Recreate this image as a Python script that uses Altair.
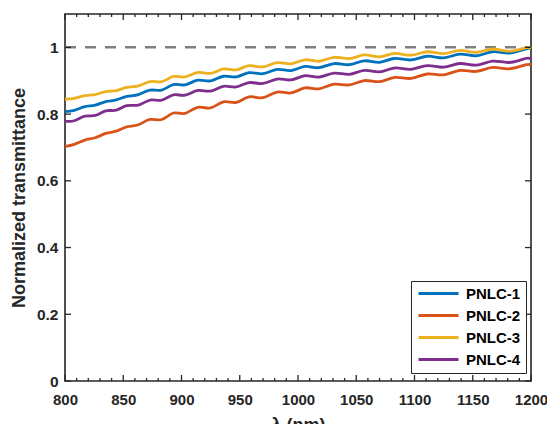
import altair as alt
import pandas as pd

# ---------------- data ----------------
wavelength = [800, 808, 817, 826, 835, 844, 853, 863, 873, 883, 893, 903, 914, 925,
              936, 947, 958, 970, 982, 994, 1006, 1018, 1031, 1044, 1057, 1070, 1083,
              1097, 1111, 1125, 1139, 1153, 1167, 1181, 1195, 1200]

pnlc1 = [0.8075, 0.8114, 0.8221, 0.8269, 0.8376, 0.8423, 0.8530, 0.8582, 0.8719, 0.8721,
         0.8883, 0.8876, 0.9016, 0.8995, 0.9134, 0.9114, 0.9242, 0.9210, 0.9338, 0.9306,
         0.9430, 0.9391, 0.9515, 0.9480, 0.9598, 0.9552, 0.9666, 0.9622, 0.9734, 0.9685,
         0.9796, 0.9748, 0.9868, 0.9827, 0.9946, 0.9960]

pnlc2 = [0.7035, 0.7093, 0.7222, 0.7291, 0.7420, 0.7489, 0.7614, 0.7680, 0.7841, 0.7837,
         0.8033, 0.8022, 0.8204, 0.8185, 0.8366, 0.8348, 0.8518, 0.8490, 0.8662, 0.8634,
         0.8786, 0.8759, 0.8896, 0.8874, 0.9005, 0.8972, 0.9099, 0.9069, 0.9202, 0.9175,
         0.9308, 0.9278, 0.9398, 0.9357, 0.9476, 0.9470]

pnlc3 = [0.8445, 0.8468, 0.8557, 0.8587, 0.8676, 0.8705, 0.8798, 0.8844, 0.8975, 0.8971,
         0.9127, 0.9114, 0.9247, 0.9220, 0.9353, 0.9326, 0.9450, 0.9416, 0.9542, 0.9507,
         0.9628, 0.9584, 0.9703, 0.9662, 0.9773, 0.9716, 0.9819, 0.9765, 0.9868, 0.9810,
         0.9912, 0.9854, 0.9950, 0.9887, 0.9984, 0.9970]

pnlc4 = [0.7790, 0.7800, 0.7940, 0.7959, 0.8098, 0.8117, 0.8253, 0.8271, 0.8419, 0.8417,
         0.8575, 0.8567, 0.8708, 0.8690, 0.8832, 0.8813, 0.8945, 0.8918, 0.9051, 0.9024,
         0.9149, 0.9108, 0.9229, 0.9191, 0.9310, 0.9266, 0.9382, 0.9342, 0.9454, 0.9405,
         0.9516, 0.9468, 0.9588, 0.9547, 0.9666, 0.9660]

series_names = ["PNLC-1", "PNLC-2", "PNLC-3", "PNLC-4"]
series_colors = ["#0072BD", "#D95319", "#EDB120", "#7E2F8E"]

x_domain = [800, 1200]
y_domain = [0, 1.1]
x_major = [800, 850, 900, 950, 1000, 1050, 1100, 1150, 1200]
x_minor = [v for v in range(800, 1201, 10) if v % 50 != 0]
y_major = [0, 0.2, 0.4, 0.6, 0.8, 1]
ref_level = [1.0]

# ---------------- build tables ----------------
rows = []
for name, vals in zip(series_names, [pnlc1, pnlc2, pnlc3, pnlc4]):
    for wl, t in zip(wavelength, vals):
        rows.append({"wl": wl, "t": t, "series": name})
df = pd.DataFrame(rows)

ref = pd.DataFrame({"x": [x_domain[0]], "x2": [x_domain[1]], "y": ref_level})
xmaj_df = pd.DataFrame({"v": x_major})
xmin_df = pd.DataFrame({"v": x_minor})
ymaj_df = pd.DataFrame({"v": y_major})

W, H = 466, 367
FONT = "Liberation Sans"
INK = "#262626"
MAJ, MIN = 6, 3

xs = alt.Scale(domain=x_domain, nice=False, zero=False)
ys = alt.Scale(domain=y_domain, nice=False, zero=False)

main_x = alt.Axis(values=x_major, format="d", title="λ (nm)", tickSize=0,
                  domain=False, grid=False, labelFlush=False, labelOverlap=False,
                  labelBound=False,
                  labelFont=FONT, labelFontSize=15, labelFontWeight="bold",
                  labelColor=INK, labelPadding=11,
                  titleFont=FONT, titleFontSize=18, titleFontWeight="bold",
                  titleColor=INK, titlePadding=9)

main_y = alt.Axis(values=y_major, format="~g",
                  title="Normalized transmittance", tickSize=0, domain=False,
                  grid=False, labelFlush=False, labelOverlap=False,
                  labelFont=FONT, labelFontSize=15.5, labelFontWeight="bold",
                  labelColor=INK, labelPadding=7,
                  titleFont=FONT, titleFontSize=18, titleFontWeight="bold",
                  titleColor=INK, titlePadding=8)

rule = alt.Chart(ref).mark_rule(color="#808080", strokeWidth=2.5,
                                strokeDash=[11, 9]).encode(
    x=alt.X("x:Q", scale=xs, axis=main_x),
    x2="x2:Q",
    y=alt.Y("y:Q", scale=ys, axis=main_y),
)

lines = alt.Chart(df).mark_line(strokeWidth=2.8, interpolate="natural").encode(
    x=alt.X("wl:Q", scale=xs, axis=main_x),
    y=alt.Y("t:Q", scale=ys, axis=main_y),
    color=alt.Color("series:N",
                    scale=alt.Scale(domain=series_names, range=series_colors),
                    legend=alt.Legend(orient="none", legendX=346, legendY=267,
                                      title=None, symbolType="M-1,0H7",
                                      symbolSize=100, symbolStrokeWidth=2.8,
                                      labelFont=FONT, labelFontSize=15,
                                      labelFontWeight="bold", labelColor="#000000",
                                      labelExpr="datum.label + '\u00a0\u00a0\u00a0'",
                                      labelOffset=35, rowPadding=6, padding=5,
                                      strokeColor=INK, fillColor="#ffffff",
                                      cornerRadius=0)),
)

tick_style = dict(color=INK, strokeWidth=1.3)

def xticks(data, length):
    bottom = alt.Chart(data).mark_rule(**tick_style).encode(
        x=alt.X("v:Q", scale=xs, axis=main_x),
        y=alt.value(H), y2=alt.value(H - length))
    top = alt.Chart(data).mark_rule(**tick_style).encode(
        x=alt.X("v:Q", scale=xs, axis=main_x),
        y=alt.value(0), y2=alt.value(length))
    return [bottom, top]

yt_left = alt.Chart(ymaj_df).mark_rule(**tick_style).encode(
    y=alt.Y("v:Q", scale=ys, axis=main_y),
    x=alt.value(0), x2=alt.value(MAJ))
yt_right = alt.Chart(ymaj_df).mark_rule(**tick_style).encode(
    y=alt.Y("v:Q", scale=ys, axis=main_y),
    x=alt.value(W), x2=alt.value(W - MAJ))

layers = [rule, lines] + xticks(xmaj_df, MAJ) + xticks(xmin_df, MIN) + [yt_left, yt_right]

chart = alt.layer(*layers).properties(
    width=W, height=H,
    autosize=alt.AutoSizeParams(type="none"),
    padding={"left": 57, "top": 6, "right": 16, "bottom": 43},
).configure_view(stroke=INK, strokeWidth=1.6)

chart.save("out.html", embed_options={"renderer": "svg", "actions": False})
